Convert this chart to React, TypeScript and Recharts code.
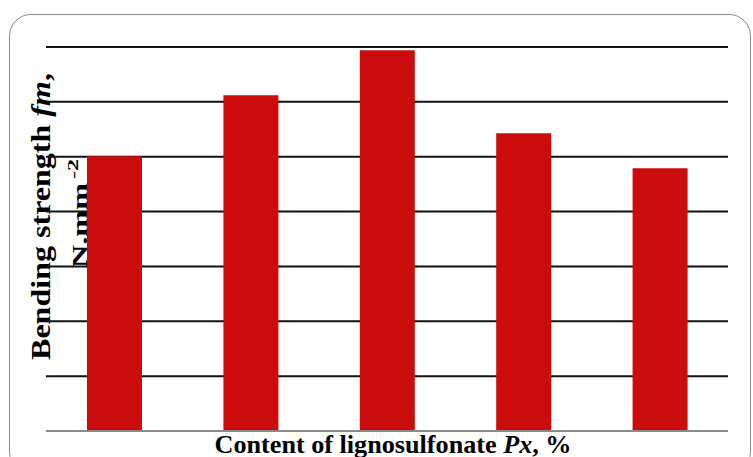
import { Bar, BarChart, CartesianGrid, ReferenceLine, XAxis, YAxis } from "recharts";

// Lignosulfonate content levels (no tick labels shown in the figure)
const categories = ["P1", "P2", "P3", "P4", "P5"];
// Bending strength fm, N.mm-2 (axis 0–7)
const strength = [5.01, 6.12, 6.94, 5.43, 4.79];
const yTicks = [0, 1, 2, 3, 4, 5, 6, 7];

const data = categories.map((c, i) => ({ c, v: strength[i] }));

const serif = "'Liberation Serif', 'Times New Roman', serif";

export default function App() {
  return (
    <div style={{ position: "absolute", left: 0, top: 0, width: 753, height: 457, overflow: "hidden", background: "#fff" }}>
      {/* rounded frame */}
      <div
        style={{
          position: "absolute",
          left: 9,
          top: 14,
          width: 742,
          height: 460,
          border: "1.5px solid #8a8a8a",
          borderRadius: 22,
          boxSizing: "border-box",
        }}
      />
      {/* axis titles sit under the chart, gridlines cross them */}
      <svg width={753} height={457} style={{ position: "absolute", left: 0, top: 0 }}>
        <g fontFamily={serif} fontWeight="bold" fill="#000">
          <text
            transform="translate(50,216.5) rotate(-90)"
            textAnchor="middle"
            fontSize={27}
            textLength={287}
            lengthAdjust="spacingAndGlyphs"
          >
            Bending strength <tspan fontStyle="italic">fm</tspan>,
          </text>
          <text
            transform="translate(87,225.5) rotate(-90)"
            textAnchor="middle"
            fontSize={22}
            textLength={85}
            lengthAdjust="spacingAndGlyphs"
          >
            N.mm
          </text>
          <text
            transform="translate(78,169) rotate(-90)"
            textAnchor="middle"
            fontSize={15}
            textLength={20}
            lengthAdjust="spacingAndGlyphs"
          >
            -2
          </text>
          <text
            x={393}
            y={453}
            textAnchor="middle"
            fontSize={26}
            textLength={357}
            lengthAdjust="spacingAndGlyphs"
          >
            Content of lignosulfonate <tspan fontStyle="italic">Px</tspan>, %
          </text>
        </g>
      </svg>
      <div style={{ position: "absolute", left: 0, top: 0 }}>
        <BarChart
          width={753}
          height={457}
          data={data}
          margin={{ top: 47, right: 25, bottom: 26, left: 46 }}
          barCategoryGap={0}
        >
          <CartesianGrid vertical={false} stroke="#111" strokeWidth={2} />
          <XAxis dataKey="c" hide />
          <YAxis domain={[0, 7]} ticks={yTicks} hide />
          <Bar dataKey="v" fill="#cb0c0c" barSize={55} isAnimationActive={false} />
          <ReferenceLine y={0} stroke="#8a8a8a" strokeWidth={2} />
        </BarChart>
      </div>
    </div>
  );
}
